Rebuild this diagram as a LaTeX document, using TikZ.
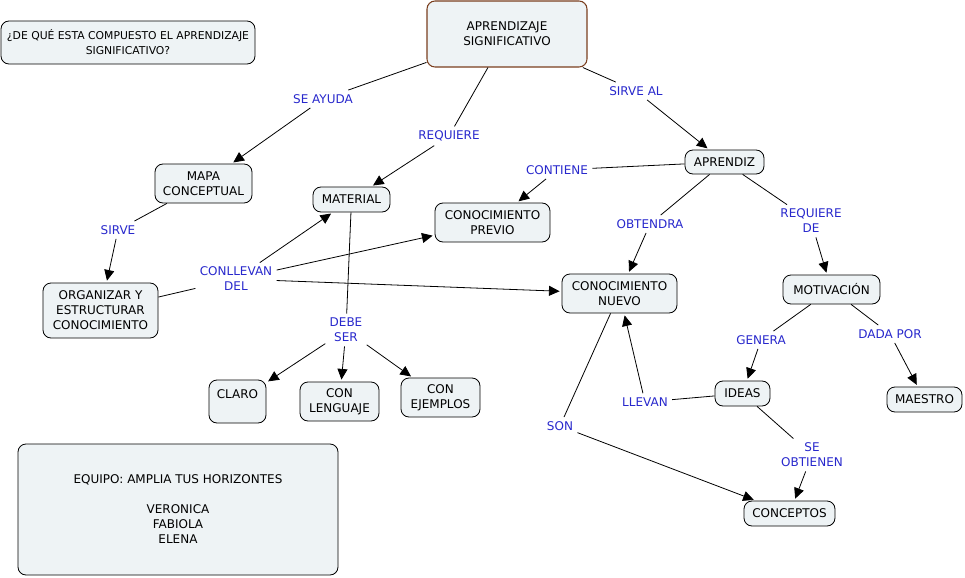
\documentclass[tikz,border=0pt]{standalone}
\usepackage{fontspec}
\setmainfont{DejaVu Sans}
\usepackage{xcolor}
\usepackage{tikz}
\usetikzlibrary{shapes,arrows,positioning,calc,arrows.meta}

\definecolor{boxfill}{HTML}{EEF3F5}
\definecolor{boxbrown}{HTML}{7A3E1E}
\definecolor{linkblue}{HTML}{2828CC}
\newlength{\px}
\setlength{\px}{0.75pt}

\begin{document}
\begin{tikzpicture}[x=0.75pt, y=-0.75pt, line width=0.6pt,
        concept/.style={draw, fill=boxfill, rounded corners=6pt, align=center, inner sep=0pt,
            font=\fontsize{9}{11.25}\selectfont},
        linkword/.style={text=linkblue, align=center, inner sep=3pt,
            font=\fontsize{9}{11.25}\selectfont},
        arr/.style={-{Triangle[length=8pt,width=7.5pt]}, shorten >=1.5pt}]
    \useasboundingbox (0,0) rectangle (965,578);

    % Concepts
    \node[concept, minimum width=254\px, minimum height=43\px, font=\fontsize{8.1}{11.25}\selectfont]
        (pregunta) at (128,42.5) {¿DE QUÉ ESTA COMPUESTO EL APRENDIZAJE\\SIGNIFICATIVO?};
    \node[concept, draw=boxbrown, line width=0.8pt, minimum width=160\px, minimum height=66\px] (sig) at (507,34)
        {APRENDIZAJE\\SIGNIFICATIVO};
    \node[concept, minimum width=97\px, minimum height=39\px] (mapa) at (203.5,183.5) {MAPA\\CONCEPTUAL};
    \node[concept, minimum width=77\px, minimum height=25\px] (material) at (351.5,199.5) {MATERIAL};
    \node[concept, minimum width=115\px, minimum height=39\px] (previo) at (492.5,222.5) {CONOCIMIENTO\\PREVIO};
    \node[concept, minimum width=79\px, minimum height=24\px] (aprendiz) at (724.5,162) {APRENDIZ};
    \node[concept, minimum width=115\px, minimum height=55\px] (organizar) at (100.5,310.5)
        {ORGANIZAR Y\\ESTRUCTURAR\\CONOCIMIENTO};
    \node[concept, minimum width=115\px, minimum height=39\px] (nuevo) at (619.5,293.5) {CONOCIMIENTO\\NUEVO};
    \node[concept, minimum width=97\px, minimum height=29\px] (motivacion) at (831.5,289.5) {MOTIVACIÓN};
    \node[concept, minimum width=57\px, minimum height=43\px] (claro) at (237.5,401.5) {CLARO\\\mbox{}};
    \node[concept, minimum width=79\px, minimum height=39\px] (lenguaje) at (339.5,401.5) {CON\\LENGUAJE};
    \node[concept, minimum width=79\px, minimum height=39\px] (ejemplos) at (440.5,397.5) {CON\\EJEMPLOS};
    \node[concept, minimum width=55\px, minimum height=25\px] (ideas) at (742.5,393.5) {IDEAS};
    \node[concept, minimum width=75\px, minimum height=25\px] (maestro) at (924.5,399.5) {MAESTRO};
    \node[concept, minimum width=91\px, minimum height=25\px] (conceptos) at (789.5,513.5) {CONCEPTOS};
    \node[concept, minimum width=320\px, minimum height=131\px] (equipo) at (178,509.5)
        {EQUIPO: AMPLIA TUS HORIZONTES\\\mbox{}\\VERONICA\\FABIOLA\\ELENA};

    % Linking words
    \node[linkword] (ayuda) at (323,99) {SE AYUDA};
    \node[linkword] (requiere) at (449,136) {REQUIERE};
    \node[linkword] (sirveal) at (636,91) {SIRVE AL};
    \node[linkword] (contiene) at (557,170) {CONTIENE};
    \node[linkword] (sirve) at (118,230) {SIRVE};
    \node[linkword] (conllevan) at (236,279) {CONLLEVAN\\DEL};
    \node[linkword] (obtendra) at (650,224) {OBTENDRA};
    \node[linkword] (requierede) at (811,221) {REQUIERE\\DE};
    \node[linkword] (debeser) at (346,330) {DEBE\\SER};
    \node[linkword] (genera) at (761,340) {GENERA};
    \node[linkword] (dadapor) at (890,334) {DADA POR};
    \node[linkword] (llevan) at (645,402) {LLEVAN};
    \node[linkword] (son) at (560,426) {SON};
    \node[linkword] (obtienen) at (812,455) {SE\\OBTIENEN};

    % Connectors
    \draw (sig) -- (ayuda);
    \draw[arr] (ayuda) -- (mapa);
    \draw (sig) -- (requiere);
    \draw[arr] (requiere) -- (material);
    \draw (sig) -- (sirveal);
    \draw[arr] (sirveal) -- (aprendiz);
    \draw (aprendiz) -- (contiene);
    \draw[arr] (contiene) -- (previo);
    \draw (aprendiz) -- (obtendra);
    \draw[arr] (obtendra) -- (nuevo);
    \draw (aprendiz) -- (requierede);
    \draw[arr] (requierede) -- (motivacion);
    \draw (mapa) -- (sirve);
    \draw[arr] (sirve) -- (organizar);
    \draw (organizar) -- (conllevan);
    \draw[arr] (conllevan) -- (material);
    \draw[arr] (conllevan) -- (previo);
    \draw[arr] (conllevan) -- (nuevo);
    \draw (material) -- (debeser);
    \draw[arr] (debeser) -- (claro);
    \draw[arr] (debeser) -- (lenguaje);
    \draw[arr] (debeser) -- (ejemplos);
    \draw (motivacion) -- (genera);
    \draw[arr] (genera) -- (ideas);
    \draw (motivacion) -- (dadapor);
    \draw[arr] (dadapor) -- (maestro);
    \draw (ideas) -- (llevan);
    \draw[arr] (llevan) -- (nuevo);
    \draw (nuevo) -- (son);
    \draw[arr] (son) -- (conceptos);
    \draw (ideas) -- (obtienen);
    \draw[arr] (obtienen) -- (conceptos);
\end{tikzpicture}
\end{document}
